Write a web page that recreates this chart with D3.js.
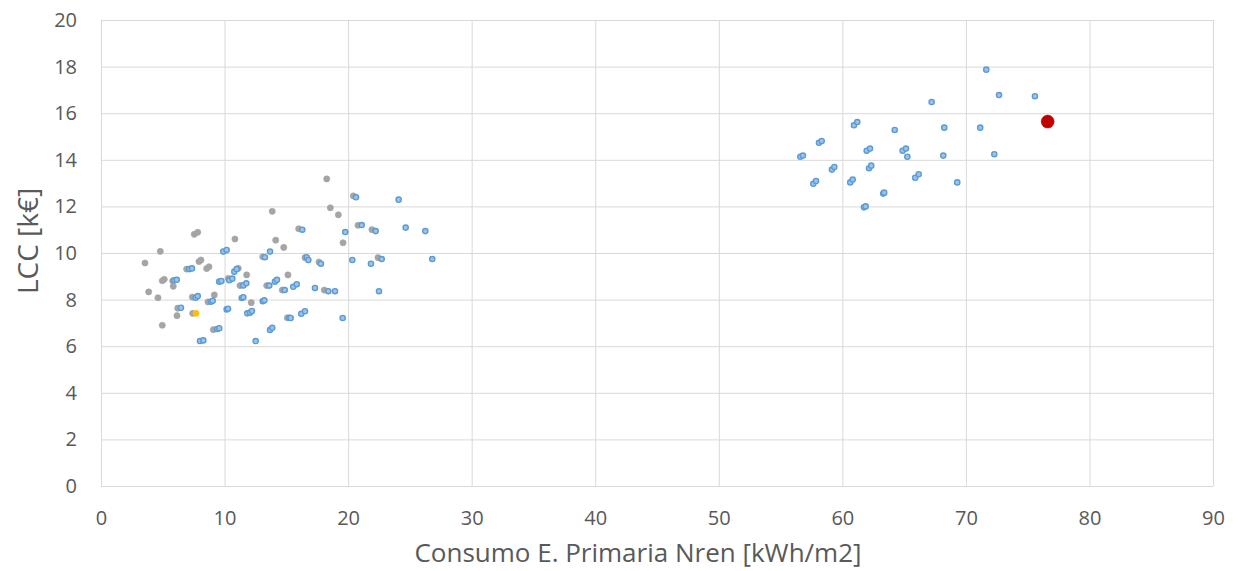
<!DOCTYPE html>
<html>
<head>
<meta charset="utf-8">
<title>LCC vs Consumo</title>
<script src="https://cdn.jsdelivr.net/npm/d3@7"></script>
<style>
  body { margin: 0; background: #fff; }
  text { font-family: "Open Sans", Lato, sans-serif; fill: #595959; }
</style>
</head>
<body>
<div id="chart"></div>
<script>
// x = Consumo E. Primaria Nren [kWh/m2], y = LCC [k€]
var grayPoints = [
  [13.86,11.79],[7.55,10.80],[7.83,10.89],[10.84,10.60],[14.14,10.55],[14.79,10.24],
  [4.80,10.07],[13.09,9.84],[3.56,9.57],[7.93,9.63],[8.09,9.70],[6.93,9.31],
  [8.55,9.33],[8.74,9.41],[11.11,9.34],[15.13,9.06],[11.79,9.06],[4.96,8.81],
  [5.12,8.87],[5.80,8.80],[5.85,8.57],[10.30,8.91],[11.25,8.60],[13.41,8.60],
  [14.67,8.41],[3.86,8.33],[4.61,8.08],[7.39,8.11],[9.17,8.20],[8.66,7.90],
  [12.16,7.87],[6.21,7.63],[6.15,7.31],[7.42,7.41],[15.08,7.22],[4.96,6.90],
  [9.09,6.71],[18.27,13.18],[20.42,12.45],[18.56,11.94],[19.21,11.64],[20.80,11.19],
  [16.00,11.04],[21.93,11.00],[19.59,10.44],[16.51,9.80],[17.64,9.61],[22.42,9.80],
  [18.07,8.41]
];
var bluePoints = [
  [9.90,10.06],[10.17,10.13],[13.68,10.06],[13.27,9.82],[7.15,9.31],[7.36,9.34],
  [10.79,9.20],[10.98,9.31],[5.93,8.83],[6.13,8.85],[9.57,8.77],[9.74,8.80],
  [10.38,8.83],[10.63,8.90],[11.52,8.61],[11.76,8.70],[14.08,8.77],[14.24,8.85],
  [13.62,8.60],[14.87,8.41],[7.66,8.08],[7.83,8.15],[8.90,7.91],[9.04,7.95],
  [11.39,8.07],[11.52,8.10],[13.09,7.93],[13.22,7.97],[6.47,7.65],[10.17,7.58],
  [10.28,7.61],[11.84,7.41],[12.06,7.44],[12.22,7.51],[15.24,7.22],[15.35,7.21],
  [9.41,6.74],[9.57,6.77],[13.68,6.70],[13.86,6.79],[8.01,6.22],[8.28,6.25],
  [12.52,6.22],[20.64,12.39],[24.09,12.29],[21.10,11.20],[24.66,11.09],[16.29,11.00],
  [22.23,10.94],[26.25,10.94],[19.77,10.90],[16.65,9.82],[16.78,9.70],[17.80,9.54],
  [20.34,9.70],[21.85,9.54],[22.72,9.74],[26.81,9.74],[15.56,8.55],[15.84,8.66],
  [17.32,8.50],[18.40,8.36],[18.94,8.36],[22.50,8.36],[16.21,7.39],[16.51,7.50],
  [19.56,7.21],
  [71.65,17.87],[72.68,16.78],[75.59,16.73],[67.23,16.48],[60.94,15.48],[61.21,15.62],
  [64.24,15.28],[68.25,15.38],[71.16,15.38],[58.11,14.73],[58.33,14.81],[61.97,14.39],
  [62.24,14.48],[64.88,14.39],[65.15,14.48],[65.26,14.13],[68.17,14.18],[72.30,14.24],
  [56.60,14.13],[56.81,14.18],[59.16,13.58],[59.35,13.69],[62.16,13.64],[62.34,13.75],
  [57.65,12.97],[57.87,13.09],[60.64,13.03],[60.84,13.15],[65.90,13.23],[66.18,13.38],
  [69.30,13.03],[63.31,12.55],[63.39,12.59],[61.75,11.96],[61.89,12.00]
];
var yellowPoints = [[7.69,7.41]];
var redPoints = [[76.62,15.64]];

var xTicks = [0,10,20,30,40,50,60,70,80,90];
var yTicks = [0,2,4,6,8,10,12,14,16,18,20];

var width = 1239, height = 571;
var margin = {top: 20, right: 26, bottom: 85, left: 101};

var svg = d3.select("#chart").append("svg")
  .attr("width", width).attr("height", height);

var x = d3.scaleLinear().domain([0, 90]).range([margin.left, width - margin.right]);
var y = d3.scaleLinear().domain([0, 20]).range([height - margin.bottom, margin.top]);

// gridlines
svg.append("g")
  .attr("transform", "translate(0," + (height - margin.bottom) + ")")
  .call(d3.axisBottom(x).tickValues(xTicks).tickSize(-(height - margin.top - margin.bottom)).tickFormat(""))
  .call(function(g){ g.select(".domain").remove(); })
  .selectAll("line").attr("stroke", "#d9d9d9");
svg.append("g")
  .attr("transform", "translate(" + margin.left + ",0)")
  .call(d3.axisLeft(y).tickValues(yTicks).tickSize(-(width - margin.left - margin.right)).tickFormat(""))
  .call(function(g){ g.select(".domain").remove(); })
  .selectAll("line").attr("stroke", "#d9d9d9");

// tick labels
var xAxis = svg.append("g")
  .attr("transform", "translate(0," + (height - margin.bottom) + ")")
  .call(d3.axisBottom(x).tickValues(xTicks).tickSize(0).tickPadding(25));
xAxis.select(".domain").remove();
xAxis.selectAll("text").style("font-size", "20px").attr("fill", "#595959");

var yAxis = svg.append("g")
  .attr("transform", "translate(" + margin.left + ",0)")
  .call(d3.axisLeft(y).tickValues(yTicks).tickSize(0).tickPadding(24));
yAxis.select(".domain").remove();
yAxis.selectAll("text").style("font-size", "20px").attr("fill", "#595959");

// axis titles
svg.append("text")
  .attr("x", 638).attr("y", 562)
  .attr("text-anchor", "middle")
  .style("font-size", "26px")
  .text("Consumo E. Primaria Nren [kWh/m2]");
svg.append("text")
  .attr("transform", "translate(38,241) rotate(-90)")
  .attr("text-anchor", "middle")
  .style("font-size", "28px")
  .text("LCC [k€]");

function drawSeries(data, r, fill, stroke, sw) {
  svg.append("g").selectAll("circle").data(data).enter().append("circle")
    .attr("cx", function(d){ return x(d[0]); })
    .attr("cy", function(d){ return y(d[1]); })
    .attr("r", r)
    .attr("fill", fill)
    .attr("stroke", stroke)
    .attr("stroke-width", sw);
}
drawSeries(grayPoints, 3.1, "#a5a5a5", "#a5a5a5", 0.6);
drawSeries(bluePoints, 2.6, "#9dc3e6", "#5b9bd5", 1.4);
drawSeries(yellowPoints, 3.1, "#ffc000", "#ffc000", 0.6);
drawSeries(redPoints, 6.5, "#c00000", "#c00000", 0.5);
</script>
</body>
</html>
